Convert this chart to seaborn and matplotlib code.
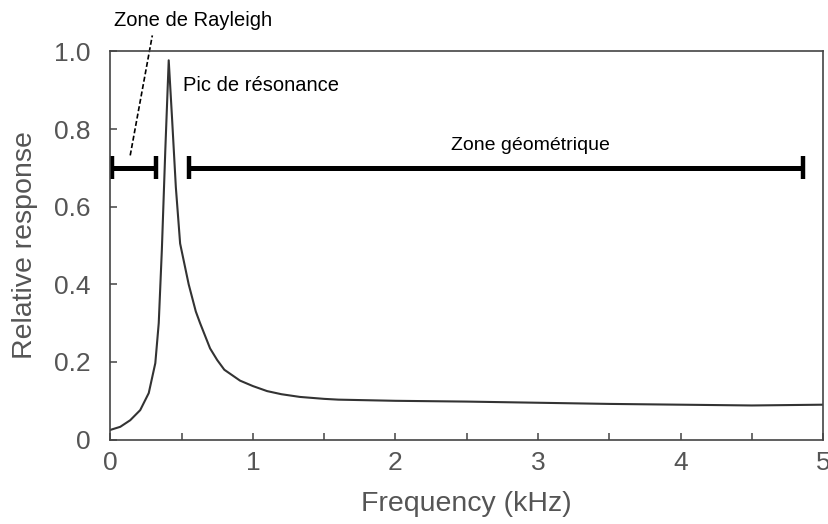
import matplotlib
matplotlib.use("Agg")
import matplotlib.pyplot as plt
import seaborn as sns
import pandas as pd

# --- data ---
freq_khz = [0, 0.07, 0.14, 0.21, 0.27, 0.316, 0.34, 0.362, 0.386, 0.41,
            0.433, 0.46, 0.49, 0.55, 0.6, 0.63, 0.7, 0.75, 0.8, 0.91, 1.0,
            1.1, 1.2, 1.33, 1.5, 1.6, 2.0, 2.5, 3.0, 3.5, 4.0, 4.5, 5.0]
response = [0.025, 0.033, 0.05, 0.076, 0.12, 0.197, 0.3, 0.49, 0.745, 0.977,
            0.83, 0.65, 0.505, 0.40, 0.33, 0.30, 0.235, 0.205, 0.18, 0.152, 0.138,
            0.125, 0.117, 0.11, 0.105, 0.103, 0.10, 0.098, 0.095, 0.092, 0.09, 0.088, 0.09]

rayleigh_zone = [0.012, 0.32]
geometric_zone = [0.555, 4.86]
zone_level = 0.70

y_ticks = [0, 0.2, 0.4, 0.6, 0.8, 1.0]
y_labels = ["0", "0.2", "0.4", "0.6", "0.8", "1.0"]
x_ticks = [0, 0.5, 1, 1.5, 2, 2.5, 3, 3.5, 4, 4.5, 5]
x_labels = ["0", "", "1", "", "2", "", "3", "", "4", "", "5"]

sns.set_style("ticks")
plt.rcParams['font.family'] = ['Liberation Sans', 'DejaVu Sans']

df = pd.DataFrame({"freq": freq_khz, "resp": response})

fig = plt.figure(figsize=(8.29, 5.24), dpi=100)
ax = fig.add_axes([0.133, 0.161, 0.860, 0.741])

sns.lineplot(data=df, x="freq", y="resp", ax=ax, color="#333333", linewidth=1.5)

# zone bars with end caps
for lo, hi in (rayleigh_zone, geometric_zone):
    ax.plot([lo, hi], [zone_level, zone_level], color="black", linewidth=3.6,
            solid_capstyle="butt")
    for xe in (lo, hi):
        ax.plot([xe, xe], [zone_level - 0.03, zone_level + 0.03], color="black",
                linewidth=3.2, solid_capstyle="butt")

# labels
ax.text(2.95, 0.735, "Zone géométrique", fontsize=14, ha="center", va="bottom", color="black")
ax.text(0.51, 0.912, "Pic de résonance", fontsize=14.5, ha="left", va="center", color="black")
ax.text(0.58, 1.08, "Zone de Rayleigh", fontsize=14.5, ha="center", va="center",
        color="black", clip_on=False)
ax.plot([0.14, 0.295], [0.732, 1.041], color="black", linewidth=1.2,
        linestyle=(0, (3, 1.5)), clip_on=False)

ax.set_xlim(0, 5)
ax.set_ylim(0, 1.0)
ax.set_xticks(x_ticks)
ax.set_xticklabels(x_labels)
ax.set_yticks(y_ticks)
ax.set_yticklabels(y_labels)
ax.tick_params(direction="in", length=5, width=1.1, colors="#444444",
               labelsize=19, labelcolor="#555555")
ax.tick_params(axis="x", pad=8)
ax.tick_params(axis="y", pad=14)

for side in ("top", "right", "left", "bottom"):
    ax.spines[side].set_visible(True)
    ax.spines[side].set_color("#444444")
    ax.spines[side].set_linewidth(1.2)

ax.set_xlabel("Frequency (kHz)", fontsize=20.5, color="#555555", labelpad=12)
ax.set_ylabel("Relative response", fontsize=20.5, color="#555555", labelpad=12)

fig.savefig("out.png", dpi=100)
